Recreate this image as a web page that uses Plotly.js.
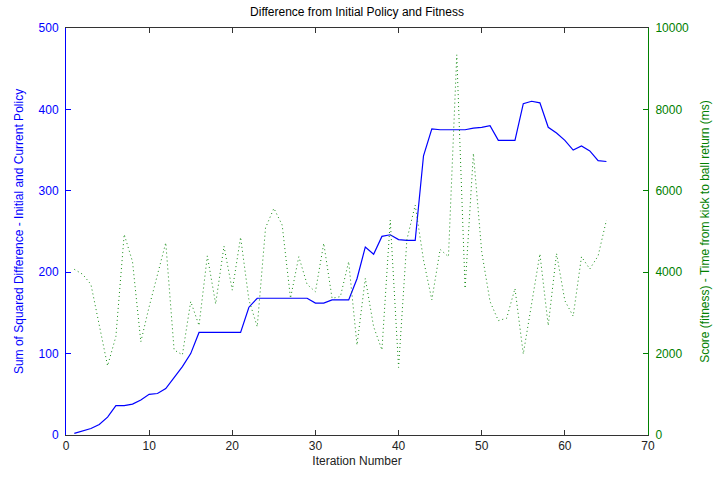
<!DOCTYPE html>
<html>
<head>
<meta charset="utf-8">
<script src="https://cdn.plot.ly/plotly-3.0.1.min.js"></script>
<style>html,body{margin:0;padding:0;background:#fff;}#chart{width:715px;height:480px;}</style>
</head>
<body>
<div id="chart"></div>
<script>
const iterations = [1,2,3,4,5,6,7,8,9,10,11,12,13,14,15,16,17,18,19,20,21,22,23,24,25,26,27,28,29,30,31,32,33,34,35,36,37,38,39,40,41,42,43,44,45,46,47,48,49,50,51,52,53,54,55,56,57,58,59,60,61,62,63,64,65];
const sumSquaredDiff = [2,5,8,13,22,36,36,38,43,50,51,57,70,84,100,126,126,126,126,126,126,157,168,168,168,168,168,168,168,162,162,166,166,166,192,231,222,244,246,240,239,239,343,376,375,375,375,375,377,378,380,362,362,362,407,410,408,378,371,362,350,355,349,337,336];
const fitnessMs = [4070,3950,3700,2700,1700,2420,4930,4260,2290,3150,3950,4725,2090,1970,3280,2690,4400,3220,4640,3560,4860,3320,2660,5090,5570,5160,3360,4380,3700,3520,4710,3360,3400,4260,2210,3850,2660,2090,5280,1660,4800,5650,4300,3320,4560,4380,9340,3600,6920,4500,3280,2810,2870,3600,1990,3220,4450,2690,4460,3300,2920,4380,4080,4400,5280];
const xTicks = [0,10,20,30,40,50,60,70];
const yLeftTicks = [0,100,200,300,400,500];
const yRightTicks = [0,2000,4000,6000,8000,10000];
const yRightLabels = ['0','2000','4000','6000','8000','10000'];

const font = {family: 'Liberation Sans, Arial, sans-serif', size: 12, color: '#000'};
const blue = 'rgb(0,0,255)';
const green = 'rgb(0,128,0)';

const traces = [
  {x: iterations, y: sumSquaredDiff, type: 'scatter', mode: 'lines', line: {color: blue, width: 1.2}, yaxis: 'y', hoverinfo: 'skip'},
  {x: iterations, y: fitnessMs, type: 'scatter', mode: 'lines', line: {color: 'rgb(20,140,20)', width: 1, dash: '1px,3px'}, yaxis: 'y2', hoverinfo: 'skip'}
];

const layout = {
  width: 715, height: 480,
  margin: {l: 66, r: 67, t: 28, b: 45},
  paper_bgcolor: '#fff', plot_bgcolor: '#fff',
  showlegend: false,
  font: font,
  title: {text: 'Difference from Initial Policy and Fitness', font: {family: font.family, size: 12, color: '#000'}, x: 0.5, xref: 'paper', y: 0.985, yanchor: 'top'},
  xaxis: {
    range: [0, 70], tickvals: xTicks, ticks: 'inside', ticklen: 5, tickcolor: '#333',
    showline: true, linecolor: '#333', linewidth: 1, mirror: 'ticks', showgrid: false, zeroline: false,
    tickfont: {family: font.family, size: 12, color: '#222'},
    title: {text: 'Iteration Number', font: {family: font.family, size: 12, color: '#222'}, standoff: 4}
  },
  yaxis: {
    range: [0, 500], tickvals: yLeftTicks, ticks: 'inside', ticklen: 5, tickcolor: blue,
    showline: true, linecolor: blue, linewidth: 1, showgrid: false, zeroline: false,
    tickfont: {family: font.family, size: 12, color: blue}, ticklabelstandoff: 4,
    title: {text: 'Sum of Squared Difference - Initial and Current Policy', font: {family: font.family, size: 12, color: blue}, standoff: 12}
  },
  yaxis2: {
    range: [0, 10000], tickvals: yRightTicks, ticktext: yRightLabels, ticks: 'inside', ticklen: 5, tickcolor: green,
    overlaying: 'y', side: 'right',
    showline: true, linecolor: green, linewidth: 1, showgrid: false, zeroline: false,
    tickfont: {family: font.family, size: 12, color: green}, ticklabelstandoff: 4,
    title: {text: 'Score (fitness) - Time from kick to ball return (ms)', font: {family: font.family, size: 12, color: green}, standoff: 12}
  }
};

Plotly.newPlot('chart', traces, layout, {displayModeBar: false, staticPlot: true});
</script>
</body>
</html>
